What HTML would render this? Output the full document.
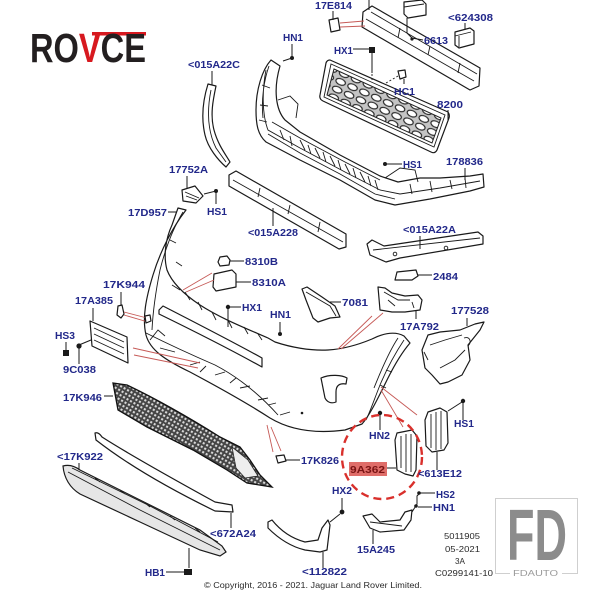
<!DOCTYPE html>
<html><head><meta charset="utf-8"><style>
html,body{margin:0;padding:0;background:#fff;}
svg{display:block}
.l{font-family:"Liberation Sans",sans-serif;font-weight:bold;font-size:10.5px;fill:#22288a;}
.s{font-family:"Liberation Sans",sans-serif;font-size:8.5px;fill:#2a2a2a;}
.k{stroke:#1a1a1a;stroke-width:0.9;fill:none}
.d{stroke:#1a1a1a;stroke-width:1;fill:none}
.p{stroke:#1a1a1a;stroke-width:1.2;fill:#fff;stroke-linejoin:round}
.r{stroke:#c65a57;stroke-width:0.9;fill:none}
.sc{fill:#1a1a1a}
</style></head><body>
<svg width="600" height="600" viewBox="0 0 600 600" xmlns="http://www.w3.org/2000/svg">
<defs>
<pattern id="ov" width="13" height="8.5" patternUnits="userSpaceOnUse" patternTransform="rotate(24)">
<rect width="13" height="8.5" fill="#c4c4c4"/>
<ellipse cx="6.5" cy="4.25" rx="5" ry="3" fill="#fff" stroke="#222" stroke-width="1.1"/>
</pattern>
<pattern id="mesh" width="4" height="4" patternUnits="userSpaceOnUse" patternTransform="rotate(30)">
<rect width="4" height="4" fill="#444"/>
<rect x="1" y="1" width="2.1" height="2.1" fill="#d8d8d8"/>
</pattern>
</defs>

<!-- Logo -->
<rect x="92" y="32" width="54" height="3.5" fill="#d7191f"/>
<text x="30" y="62" font-family="Liberation Sans, sans-serif" font-weight="bold" font-size="41" textLength="116" lengthAdjust="spacingAndGlyphs" fill="#231f20">RO<tspan fill="#d7191f">V</tspan>CE</text>

<!-- top beam -->
<path class="p" d="M363,12 L372,6 L480,68 L479,86 L470,90 L362,27 Z"/>
<path class="k" d="M366,19 L474,81 M371,12 L477,74 M400,28 L398,38 M430,46 L428,55 M460,63 L458,73"/>
<path class="d" d="M369,0 V10"/>
<path class="p" d="M329,20 L338,18 L340,30 L331,32 Z"/>
<path class="d" d="M333,11 V20"/>
<path class="r" d="M340,23 L364,21 M340,27 L365,26"/>
<!-- top block + 6613 -->
<path class="p" d="M404,2 L422,0 L426,4 L426,15 L408,18 L404,14 Z"/>
<path class="k" d="M404,7 L424,4"/>
<path class="d" d="M407,18 V33 L412,38 L423,40"/>
<circle class="sc" cx="412" cy="39" r="1.6"/>
<path class="p" d="M455,32 L470,28 L474,31 L474,44 L459,48 L455,45 Z"/>
<path class="k" d="M455,36 L471,32 M459,36 V47"/>
<path class="d" d="M465,23 V30"/>

<!-- grille 8200 -->
<path class="p" d="M330,60 L448,112 Q450,115 449,118 L437,150 Q435,154 431,152 L323,101 Q319,99 320,95 L326,63 Q327,60 330,60 Z" stroke-width="1.4"/>
<path class="k" d="M331,64 L445,115 L434,147 L324,97 Z"/>
<path d="M334,69 L441,118 L432,143 L327,95 Z" fill="url(#ov)" stroke="#222" stroke-width="1"/>
<path class="d" d="M353,49 H371 M372,52 V73"/>
<path class="sc" d="M369,47 H375 V53 H369 Z"/>
<path class="k" d="M372,74 V82" stroke-dasharray="2 2"/>
<path class="p" d="M398,71 L405,70 L406,77 L400,79 Z"/>
<path class="k" d="M386,83 L398,76" stroke-dasharray="2 2"/>
<path class="d" d="M404,79 V84"/>
<path class="d" d="M448,110 V120"/>

<!-- upper frame -->
<path class="p" d="M271,60 C262,70 256,90 256,110 C256,125 258,135 266,142 L300,160 L340,180 L375,200 L395,205 L430,199 L470,191 L484,187 L483,174 L470,176 L440,178 L420,178 L398,182 L380,176 L340,155 L300,132 L285,120 C276,110 273,90 280,66 Z"/>
<path class="k" d="M266,70 C262,90 262,115 268,130 L300,148 L345,172 L380,190 L400,194 L440,188 L480,181 M272,122 L300,138 L345,162 L380,180 M269,66 C264,80 261,100 263,118 M278,100 L290,96 L298,104 L296,118 M385,178 L400,168 L415,170 L418,182 M300,140 L305,150 M315,148 L320,158 M330,156 L335,166 M345,164 L350,174 M360,172 L365,182 M375,180 L378,190 M430,181 L432,192 M450,180 L452,189 M262,85 L270,88 M260,105 L268,106 M259,120 L267,122 M280,130 L284,140 M290,136 L292,146 M308,145 L311,154 M323,152 L326,162 M338,160 L341,170 M353,168 L356,178 M368,176 L371,186 M410,184 L412,194 M465,178 L466,188 M268,134 L300,153 L340,174 L375,194 L395,199"/>
<path class="d" d="M402,164 H386 M292,44 V58 L283,61 M465,168 V180"/>
<circle class="sc" cx="385" cy="164" r="2"/>
<circle class="sc" cx="292" cy="58" r="2"/>

<!-- 015A22C -->
<path class="p" d="M208,84 L216,86 C213,100 210,115 214,130 C218,145 226,155 230,162 L226,167 C218,160 208,148 205,135 C201,118 203,100 208,84 Z"/>
<path class="k" d="M211,90 C207,110 207,130 216,148 L226,162"/>
<path class="d" d="M212,71 V85"/>

<!-- 17752A -->
<path class="p" d="M182,190 L195,186 L203,196 L196,203 L183,201 Z"/>
<path class="k" d="M185,192 L199,198 M186,196 L197,200"/>
<path class="d" d="M187,176 V188 M216,204 V191 L204,194 M168,212 H177"/>
<circle class="sc" cx="216" cy="191" r="2"/>

<!-- 015A228 -->
<path class="p" d="M229,175 L236,171 L346,234 L346,247 L339,249 L229,186 Z"/>
<path class="k" d="M233,180 L343,242 M260,188 L258,197 M290,205 L288,214 M320,222 L318,232"/>
<path class="d" d="M273,226 V208"/>

<!-- 015A22A -->
<path class="p" d="M367,244 L372,240 L384,246 L478,232 L483,236 L483,244 L400,258 L386,262 L370,255 Z"/>
<path class="k" d="M373,250 L480,238"/>
<circle class="k" cx="395" cy="254" r="1.8"/><circle class="k" cx="446" cy="248" r="1.8"/>
<path class="d" d="M420,236 V249"/>

<!-- 2484 -->
<path class="p" d="M397,272 L416,270 L418,276 L412,280 L395,280 Z"/>
<path class="d" d="M418,275 H432"/>

<!-- 17A792 -->
<path class="p" d="M378,287 L385,288 L392,293 L405,296 L418,295 L422,300 L420,310 L405,312 L392,312 L380,310 Z"/>
<path class="k" d="M384,292 L398,300 L410,300 M388,300 L395,306 M412,302 L414,308"/>
<path class="d" d="M416,319 V310"/>

<!-- 7081 -->
<path class="p" d="M302,289 L307,287 L322,297 L335,306 L340,317 L330,318 L318,322 L313,318 L306,300 Z"/>
<path class="k" d="M306,292 L330,306 L336,316"/>
<path class="d" d="M330,302 H341"/>

<!-- 177528 -->
<path class="p" d="M428,335 L440,332 L460,330 L475,324 L484,322 L480,330 L468,345 L470,360 L462,375 L448,382 L440,384 L432,375 L425,368 L422,350 Z"/>
<path class="k" d="M430,345 L445,340 L462,335 M440,368 L455,360 L465,350 M424,352 L428,360 M464,338 C470,336 472,342 468,346"/>
<path class="d" d="M467,318 V326"/>

<!-- main bumper -->
<path class="p" d="M178,208 L186,210 C172,228 160,252 153,275 C146,298 142,318 146,335 C150,350 165,360 190,372 C220,388 250,405 270,418 C290,430 315,434 345,430 L362,424 C370,415 378,398 388,378 C396,362 404,350 410,343 L404,336 C395,331 384,333 372,339 C360,344 345,349 328,350 C310,351 290,347 275,342 L268,338 C245,328 220,318 200,305 C185,295 172,283 167,270 C163,255 166,238 172,225 Z"/>
<path class="k" d="M183,212 C172,230 165,250 160,270 C156,290 153,310 152,330 M172,285 L180,290 M185,292 L190,300 M198,302 L202,310 M212,312 L216,320 M228,320 L232,328 M244,327 L248,334 M258,334 L262,340 M176,262 L182,266 M170,240 L176,243"/>
<path class="k" d="M146,333 C160,340 185,352 215,365 C240,378 260,395 278,415 M160,348 L175,352 M190,365 L200,362 M215,375 L225,372 M240,388 L250,386 M258,400 L268,398 M150,340 L158,330 L165,336 M200,372 L206,366 M230,383 L236,378 M268,405 L276,403 M280,415 L290,412"/>
<path class="k" d="M404,340 C396,352 388,366 380,385 C374,400 370,412 366,420 M398,338 C390,350 382,368 374,388 M386,370 L392,372 M380,385 L386,388"/>
<path class="p" d="M159,310 L163,306 C200,325 235,343 262,358 L262,367 C235,352 200,334 159,314 Z"/>
<path class="p" d="M321,378 C330,374 342,375 347,378 L346,384 C340,383 336,385 336,392 L336,402 C331,404 327,402 325,398 Z"/>
<circle class="sc" cx="302" cy="413" r="1.3"/>

<!-- 17A385 plate etc -->
<path class="p" d="M90,321 L127,337 L128,363 L92,346 Z"/>
<path class="k" d="M94,328 L124,342 M94,334 L124,348 M94,340 L124,354"/>
<path class="d" d="M93,308 V321"/>
<path class="r" d="M133,348 L200,363 M134,355 L198,368"/>
<path class="d" d="M66,342 V350 M79,364 V348 M79,345 L91,340"/>
<path class="sc" d="M63,350 H69 V356 H63 Z"/>
<circle class="sc" cx="79" cy="346" r="2.6"/>

<!-- 17K944 -->
<path class="p" d="M118,306 L122,305 L124,314 L121,318 L117,315 Z"/>
<path class="d" d="M121,292 V305"/>
<path class="r" d="M124,312 L147,318 M124,315 L148,322"/>
<path class="p" d="M145,316 L150,315 L151,321 L146,323 Z"/>

<!-- mid HX1, HN1 -->
<path class="d" d="M241,307 H230 M228,309 V327 M280,322 V332"/>
<circle class="sc" cx="228" cy="307" r="2.2"/>
<circle class="sc" cx="280" cy="334" r="2"/>

<!-- 8310B / A -->
<path class="p" d="M220,257 L227,256 L230,260 L229,265 L220,266 L218,262 Z"/>
<path class="d" d="M230,261 H244"/>
<path class="p" d="M214,274 L232,270 L236,274 L236,287 L216,291 L213,287 Z"/>
<path class="d" d="M236,282 H251"/>
<path class="r" d="M212,273 L183,290 M214,280 L186,292"/>

<!-- 17K946 mesh -->
<path d="M113,383 L127,385 C150,396 177,410 220,437 L240,447 L250,460 L260,475 L272,487 L247,483 L227,470 L193,450 L147,427 L118,410 Z" fill="url(#mesh)" stroke="#111" stroke-width="1.3"/>
<path d="M232,447 L248,460 L258,476 L245,478 L236,468 Z" fill="#eee" stroke="#222" stroke-width="0.8"/>
<path class="d" d="M104,396 H113"/>

<!-- 17K826 -->
<path class="p" d="M276,456 L284,455 L286,461 L278,463 Z"/>
<path class="d" d="M286,460 H300"/>
<path class="r" d="M267,425 L273,452 M271,427 L281,451"/>

<!-- 672A24 strip -->
<path class="p" d="M95,433 C98,432 100,434 102,437 C130,455 175,480 215,502 L232,505 L233,512 L215,511 C172,490 128,465 96,440 Z"/>
<path class="d" d="M231,513 V528"/>

<!-- 17K922 skid -->
<path d="M63,466 C70,464 76,467 80,470 L140,500 L200,530 L222,546 L226,552 L220,556 L200,550 L140,522 L80,494 C70,488 64,478 63,466 Z" fill="#e6e6e6" stroke="#1a1a1a" stroke-width="1.2"/>
<path class="k" d="M68,472 L140,510 L220,550 M72,468 L150,506 L218,542 M95,478 L100,482 M120,490 L125,494 M145,503 L150,507 M170,516 L175,520 M195,528 L200,532"/>
<path class="d" d="M79,463 V470 M166,572 H184 M189,548 V568"/>
<path class="sc" d="M184,569 H192 V575 H184 Z"/>

<!-- 112822 -->
<path class="p" d="M268,522 L272,520 C280,530 290,538 305,542 L318,540 L322,528 L328,520 L330,525 L327,550 L320,552 L305,550 C288,546 275,535 268,528 Z"/>
<path class="d" d="M323,568 V552 M342,498 V510 M340,514 L330,522"/>
<circle class="sc" cx="342" cy="512" r="2.4"/>

<!-- 15A245 -->
<path class="p" d="M363,516 L372,514 L380,522 L400,520 L405,512 L412,510 L411,520 L404,530 L380,532 L370,528 Z"/>
<path class="k" d="M370,522 L402,526"/>
<path class="d" d="M373,544 V530 M435,493 H420 L417,496 V504 L412,512 M432,507 H418"/>
<circle class="sc" cx="419" cy="493" r="1.8"/>
<circle class="sc" cx="416" cy="506" r="1.8"/>

<!-- 9A362 lamp -->
<path class="p" d="M397,433 L412,430 L417,436 L416,470 L413,476 L405,474 L397,470 L395,440 Z"/>
<path class="k" d="M401,436 V468 M406,434 V472 M411,434 V472"/>
<path class="d" d="M387,468 H396"/>
<!-- 613E12 lamp -->
<path class="p" d="M428,412 L440,408 L447,412 L448,443 L444,450 L432,452 L426,446 L425,420 Z"/>
<path class="k" d="M431,414 V448 M436,412 V450 M441,411 V449"/>
<path class="d" d="M437,470 V452 M463,420 V402 M462,402 L448,411 M380,430 V415"/>
<circle class="sc" cx="463" cy="401" r="2.2"/>
<circle class="sc" cx="380" cy="413" r="2.2"/>
<path class="r" d="M381,387 L417,415 M381,390 L403,427 M372,316 L338,349 M383,313 L341,349"/>
<ellipse cx="382" cy="457" rx="40" ry="42" fill="none" stroke="#d9302c" stroke-width="2.4" stroke-dasharray="8 5"/>
<rect x="349" y="462" width="38" height="14" fill="#d9534f" opacity="0.85"/>

<!-- labels -->
<text class="l" x="315" y="9" textLength="37" lengthAdjust="spacingAndGlyphs">17E814</text>
<text class="l" x="448" y="21" textLength="45" lengthAdjust="spacingAndGlyphs">&lt;624308</text>
<text class="l" x="424" y="44" textLength="24" lengthAdjust="spacingAndGlyphs">6613</text>
<text class="l" x="334" y="54" textLength="19" lengthAdjust="spacingAndGlyphs">HX1</text>
<text class="l" x="394" y="95" textLength="21" lengthAdjust="spacingAndGlyphs">HC1</text>
<text class="l" x="437" y="108" textLength="26" lengthAdjust="spacingAndGlyphs">8200</text>
<text class="l" x="403" y="168" textLength="19" lengthAdjust="spacingAndGlyphs">HS1</text>
<text class="l" x="446" y="165" textLength="37" lengthAdjust="spacingAndGlyphs">178836</text>
<text class="l" x="283" y="41" textLength="20" lengthAdjust="spacingAndGlyphs">HN1</text>
<text class="l" x="188" y="68" textLength="52" lengthAdjust="spacingAndGlyphs">&lt;015A22C</text>
<text class="l" x="169" y="173" textLength="39" lengthAdjust="spacingAndGlyphs">17752A</text>
<text class="l" x="128" y="216" textLength="39" lengthAdjust="spacingAndGlyphs">17D957</text>
<text class="l" x="207" y="215" textLength="20" lengthAdjust="spacingAndGlyphs">HS1</text>
<text class="l" x="248" y="236" textLength="50" lengthAdjust="spacingAndGlyphs">&lt;015A228</text>
<text class="l" x="245" y="265" textLength="33" lengthAdjust="spacingAndGlyphs">8310B</text>
<text class="l" x="252" y="286" textLength="34" lengthAdjust="spacingAndGlyphs">8310A</text>
<text class="l" x="103" y="288" textLength="42" lengthAdjust="spacingAndGlyphs">17K944</text>
<text class="l" x="75" y="304" textLength="38" lengthAdjust="spacingAndGlyphs">17A385</text>
<text class="l" x="242" y="311" textLength="20" lengthAdjust="spacingAndGlyphs">HX1</text>
<text class="l" x="270" y="318" textLength="21" lengthAdjust="spacingAndGlyphs">HN1</text>
<text class="l" x="55" y="339" textLength="20" lengthAdjust="spacingAndGlyphs">HS3</text>
<text class="l" x="63" y="373" textLength="33" lengthAdjust="spacingAndGlyphs">9C038</text>
<text class="l" x="63" y="401" textLength="39" lengthAdjust="spacingAndGlyphs">17K946</text>
<text class="l" x="403" y="233" textLength="53" lengthAdjust="spacingAndGlyphs">&lt;015A22A</text>
<text class="l" x="433" y="280" textLength="25" lengthAdjust="spacingAndGlyphs">2484</text>
<text class="l" x="342" y="306" textLength="26" lengthAdjust="spacingAndGlyphs">7081</text>
<text class="l" x="400" y="330" textLength="39" lengthAdjust="spacingAndGlyphs">17A792</text>
<text class="l" x="451" y="314" textLength="38" lengthAdjust="spacingAndGlyphs">177528</text>
<text class="l" x="369" y="439" textLength="21" lengthAdjust="spacingAndGlyphs">HN2</text>
<text class="l" x="454" y="427" textLength="20" lengthAdjust="spacingAndGlyphs">HS1</text>
<text class="l" x="301" y="464" textLength="38" lengthAdjust="spacingAndGlyphs">17K826</text>
<text class="l" x="350" y="473" textLength="35" lengthAdjust="spacingAndGlyphs" style="fill:#7a1414">9A362</text>
<text class="l" x="418" y="477" textLength="44" lengthAdjust="spacingAndGlyphs">&lt;613E12</text>
<text class="l" x="332" y="494" textLength="20" lengthAdjust="spacingAndGlyphs">HX2</text>
<text class="l" x="436" y="498" textLength="19" lengthAdjust="spacingAndGlyphs">HS2</text>
<text class="l" x="433" y="511" textLength="22" lengthAdjust="spacingAndGlyphs">HN1</text>
<text class="l" x="357" y="553" textLength="38" lengthAdjust="spacingAndGlyphs">15A245</text>
<text class="l" x="302" y="575" textLength="45" lengthAdjust="spacingAndGlyphs">&lt;112822</text>
<text class="l" x="57" y="460" textLength="46" lengthAdjust="spacingAndGlyphs">&lt;17K922</text>
<text class="l" x="210" y="537" textLength="46" lengthAdjust="spacingAndGlyphs">&lt;672A24</text>
<text class="l" x="145" y="576" textLength="20" lengthAdjust="spacingAndGlyphs">HB1</text>

<text class="s" x="204" y="588" textLength="218" lengthAdjust="spacingAndGlyphs">© Copyright, 2016 - 2021. Jaguar Land Rover Limited.</text>
<text class="s" x="444" y="539" textLength="36" lengthAdjust="spacingAndGlyphs">5011905</text>
<text class="s" x="445" y="552" textLength="35" lengthAdjust="spacingAndGlyphs">05-2021</text>
<text class="s" x="455" y="564" textLength="10" lengthAdjust="spacingAndGlyphs">3A</text>
<text class="s" x="435" y="576" textLength="58" lengthAdjust="spacingAndGlyphs">C0299141-10</text>

<!-- FD watermark -->
<rect x="495.5" y="498.5" width="82" height="75" fill="none" stroke="#cfcfcf" stroke-width="1"/>
<rect x="510" y="569" width="52" height="9" fill="#fff"/>
<text x="507" y="560" font-family="Liberation Sans, sans-serif" font-weight="bold" font-size="72" textLength="60" lengthAdjust="spacingAndGlyphs" fill="#8c8c8c">FD</text>
<text x="513" y="576" font-family="Liberation Sans, sans-serif" font-size="8" textLength="45" lengthAdjust="spacingAndGlyphs" fill="#9a9a9a">FDAUTO</text>
</svg>
</body></html>
